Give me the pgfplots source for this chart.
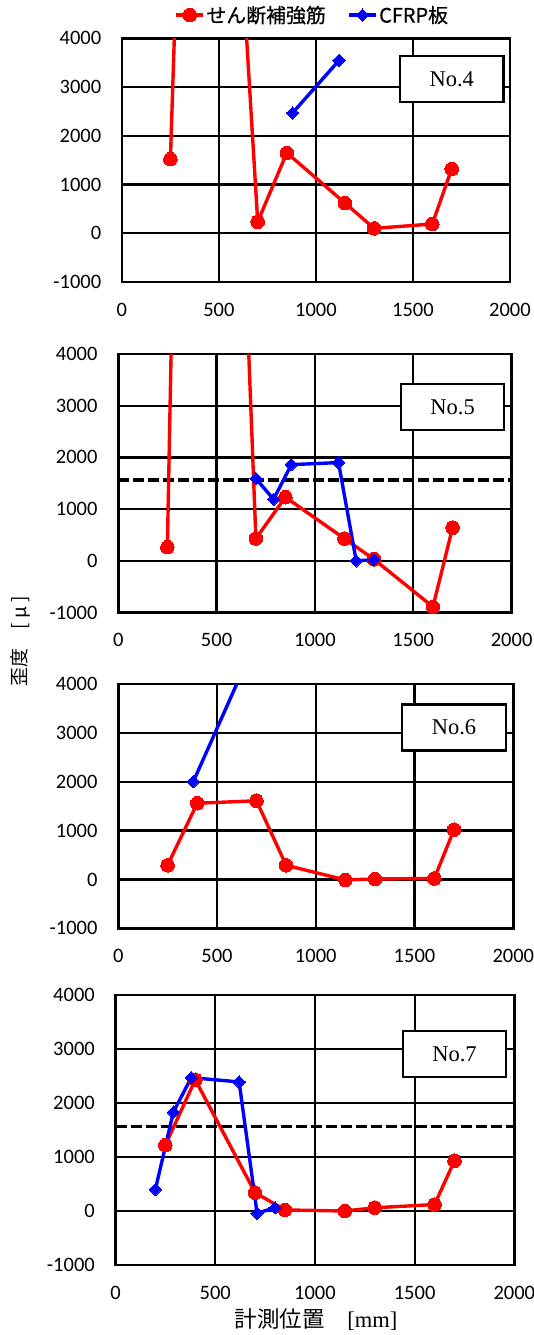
\documentclass[border=0pt]{standalone}
\usepackage{fontspec}
\setmainfont{Carlito}
\newfontfamily\jp{Noto Sans CJK JP}
\newfontfamily\jpleg[FakeBold=0.6]{Noto Sans CJK JP}
\newfontfamily\tms{Liberation Serif}
\usepackage{pgfplots}
\pgfplotsset{compat=1.18}
\pgfplotsset{
  panel/.style={
    scale only axis, xmin=0,xmax=2000,ymin=-1000,ymax=4000,
    xtick={0,500,1000,1500,2000}, xticklabels={0,500,1000,1500,2000},
    ytick={-1000,0,1000,2000,3000,4000}, yticklabels={-1000,0,1000,2000,3000,4000},
    grid=major,
    every axis grid/.style={black, line width=2.2pt},
    major grid style={black, line width=2.2pt},
    axis line style={line width=2.6pt},
    major tick length=0pt,
    tick label style={font=\fontsize{20.5}{21}\selectfont, inner sep=0pt},
    xticklabel style={anchor=north, yshift=-20.5pt},
    yticklabel style={anchor=east, xshift=-20.5pt},
    clip mode=global,
  },
  red line/.style={red, line width=3.4pt, mark=*, mark size=6.8pt, mark options={solid, fill=red, draw=red, line width=0pt}},
  blue line/.style={blue, line width=3.4pt, mark=square*, mark size=4.4pt, mark options={solid, rotate=45, fill=blue, draw=blue, line width=0pt}},
  ref line/.style={black, line width=3.8pt, dash pattern=on 11pt off 4pt, no markers},
}
\tikzset{
  nobox/.style={draw=black, line width=2.2pt, fill=white, minimum width=103.5pt, minimum height=46pt, inner sep=0pt, font=\tms\fontsize{22.5}{24}\selectfont},
}
\begin{document}
\begin{tikzpicture}
\useasboundingbox (0pt,0pt) rectangle (534pt,-1335pt);

% Panel No.4
\begin{axis}[panel, at={(121.9pt,-282pt)}, anchor=south west, width=388pt, height=243.7pt,
  legend columns=2,
  legend style={at={(0.49,1.0956)}, anchor=center, draw=none, fill=none, inner sep=0pt,
    font=\jpleg\fontsize{19.9}{20}\selectfont, nodes={inner sep=1.5pt},
    /tikz/every even column/.append style={column sep=20pt}},
  legend image code/.code={\draw[mark repeat=2,mark phase=2,#1] plot coordinates {(0pt,0pt) (13.5pt,0pt) (27pt,0pt)};},
]
\addplot[red line] coordinates {(250,1520) (400,20000) (700,235) (850,1650) (1150,620) (1300,100) (1600,190) (1700,1320)};
\addlegendentry{せん断補強筋}
\addplot[blue line] coordinates {(880,2470) (1120,3550)};
\addlegendentry{CFRP板}
\node[nobox] at (axis cs:1700,3162) {No.4};
\end{axis}

% Panel No.5
\begin{axis}[panel, at={(118.2pt,-612.5pt)}, anchor=south west, width=393.4pt, height=258.5pt]
\addplot[ref line] coordinates {(0,1562) (2000,1562)};
\addplot[red line] coordinates {(250,265) (400,30000) (700,430) (850,1230) (1150,430) (1300,30) (1600,-890) (1700,640)};
\addplot[blue line] coordinates {(700,1590) (790,1190) (880,1860) (1120,1900) (1210,0) (1300,20)};
\node[nobox] at (axis cs:1700,2971) {No.5};
\end{axis}

% Panel No.6
\begin{axis}[panel, at={(118.2pt,-928.3pt)}, anchor=south west, width=395.1pt, height=244.3pt]
\addplot[red line] coordinates {(250,290) (400,1560) (700,1610) (850,290) (1150,-10) (1300,10) (1600,20) (1700,1020)};
\addplot[blue line] coordinates {(380,2000) (620,4180)};
\node[nobox] at (axis cs:1700,3110) {No.6};
\end{axis}

% Panel No.7
\begin{axis}[panel, at={(115.5pt,-1265pt)}, anchor=south west, width=398.8pt, height=270pt]
\addplot[ref line] coordinates {(0,1566) (2000,1566)};
\addplot[red line] coordinates {(250,1220) (400,2430) (700,340) (850,20) (1150,0) (1300,60) (1600,120) (1700,930)};
\addplot[blue line] coordinates {(200,400) (290,1830) (380,2470) (620,2390) (710,-40) (800,60)};
\node[nobox] at (axis cs:1700,2907) {No.7};
\end{axis}

\node[rotate=90, font=\jp\fontsize{19}{20}\selectfont, inner sep=0pt] at (20pt,-641pt) {歪度　[ μ ]};
\node[inner sep=0pt] at (316pt,-1320pt) {{\jp\fontsize{22.5}{24}\selectfont 計測位置　}{\tms\fontsize{22.5}{24}\selectfont [mm]}};
\end{tikzpicture}
\end{document}
